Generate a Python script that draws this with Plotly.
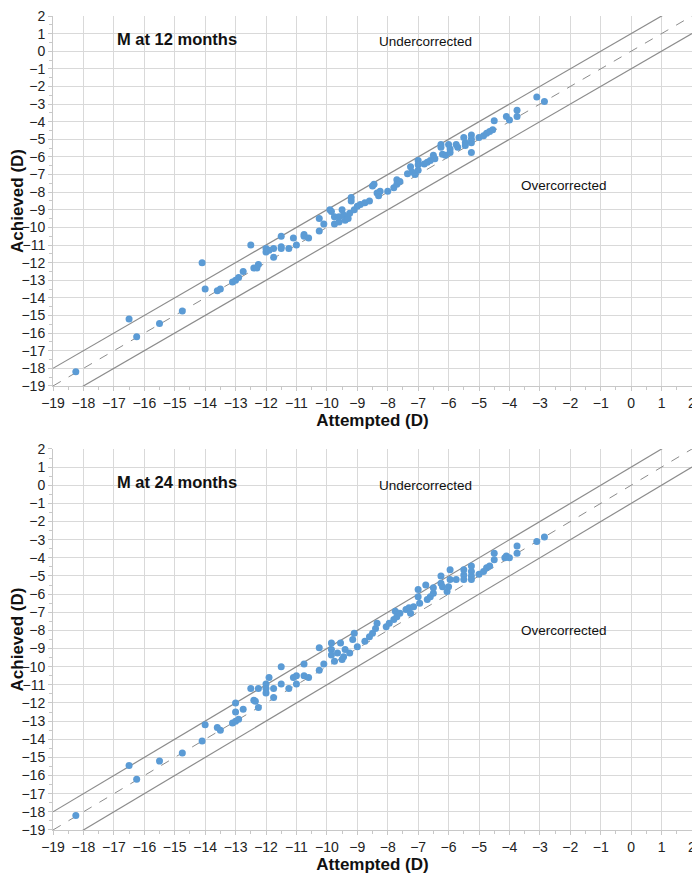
import plotly.graph_objects as go

# ---------------- data ----------------
ticks = list(range(-19, 3))
tick_text = [str(v).replace("-", "\u2212") for v in ticks]

att_12 = [-18.25, -16.5, -16.25, -15.5, -14.75, -14.1, -14.0, -13.6, -13.5, -13.1, -13.0, -12.9,
          -12.75, -12.5, -12.4, -12.3, -12.25, -12.0, -12.0, -11.9, -11.75, -11.75, -11.5, -11.5,
          -11.5, -11.25, -11.1, -11.0, -10.75, -10.75, -10.6, -10.25, -10.25, -10.1,
          -9.9, -9.85, -9.75, -9.75, -9.6, -9.6, -9.5, -9.45, -9.4, -9.3, -9.25, -9.2, -9.2, -9.1,
          -9.0, -8.9,
          -8.75, -8.6, -8.5, -8.45, -8.35, -8.3, -8.25,
          -8.0, -7.8, -7.7, -7.7, -7.6,
          -7.35, -7.25, -7.2, -7.1, -7.0, -7.0, -7.0,
          -6.8, -6.7, -6.6, -6.5, -6.45,
          -6.25, -6.25, -6.2, -6.1, -6.0, -5.95, -5.95,
          -5.75, -5.7, -5.5, -5.45, -5.45,
          -5.25, -5.25, -5.25, -5.25,
          -5.0, -4.85, -4.75, -4.65, -4.55, -4.5,
          -4.1, -4.0, -3.75, -3.75, -3.1, -2.85]
ach_12 = [-18.2, -15.2, -16.2, -15.45, -14.75, -12.0, -13.5, -13.6, -13.5, -13.1, -13.0, -12.85,
          -12.5, -11.0, -12.3, -12.3, -12.1, -11.4, -11.2, -11.3, -11.2, -11.7, -10.5, -11.1,
          -11.2, -11.2, -10.6, -11.0, -10.4, -10.5, -10.6, -9.5, -10.2, -9.8,
          -9.0, -9.1, -9.4, -9.8, -9.7, -9.4, -9.0, -9.3, -9.6, -9.5, -9.2, -8.5, -8.3, -9.0,
          -8.8, -8.7,
          -8.6, -8.5, -7.65, -7.55, -8.05, -8.2, -7.95,
          -7.95, -7.75, -7.3, -7.55, -7.4,
          -6.95, -6.55, -6.85, -7.0, -6.2, -6.45, -6.75,
          -6.4, -6.3, -6.2, -5.9, -6.1,
          -5.3, -5.45, -5.85, -5.9, -5.3, -5.55, -5.75,
          -5.3, -5.45, -4.9, -5.2, -5.35,
          -4.75, -5.0, -5.2, -5.75,
          -4.9, -4.8, -4.65, -4.55, -4.45, -3.95,
          -3.7, -3.9, -3.35, -3.7, -2.6, -2.85]

att_24 = [-18.25, -16.5, -16.25, -15.5, -14.75, -14.1, -14.0, -13.6, -13.5, -13.1, -13.0, -13.0,
          -13.0, -12.9, -12.75, -12.5, -12.4, -12.35, -12.25, -12.25, -12.0, -12.0, -12.0, -11.9,
          -11.75, -11.75, -11.5, -11.5, -11.25, -11.1, -11.0, -11.0, -10.75, -10.75, -10.6,
          -10.25, -10.25, -10.1, -9.85, -9.85, -9.85, -9.75, -9.65, -9.55, -9.5, -9.45, -9.4,
          -9.25, -9.15, -9.1, -9.0, -8.75, -8.6, -8.5, -8.4, -8.35,
          -8.05, -7.95, -7.8, -7.75, -7.7, -7.6, -7.4, -7.3, -7.25, -7.15,
          -7.0, -7.0, -6.95, -6.75, -6.7, -6.6, -6.5, -6.5,
          -6.25, -6.25, -6.2, -6.05, -6.0, -5.95, -5.95, -5.75,
          -5.5, -5.5, -5.5, -5.25, -5.25, -5.25, -5.25,
          -5.0, -4.85, -4.75, -4.65, -4.5, -4.5,
          -4.15, -4.1, -4.0, -3.75, -3.75, -3.1, -2.85]
ach_24 = [-18.2, -15.45, -16.2, -15.2, -14.75, -14.1, -13.2, -13.35, -13.5, -13.1, -13.0, -12.0,
          -12.5, -12.9, -12.35, -11.2, -11.85, -11.9, -12.25, -11.2, -10.95, -11.2, -11.45, -10.6,
          -11.2, -11.7, -10.0, -10.95, -11.2, -10.6, -10.5, -10.95, -9.85, -10.5, -10.6,
          -8.95, -10.2, -9.85, -8.7, -9.05, -9.35, -9.7, -9.25, -8.7, -9.6, -9.45, -9.05,
          -9.25, -8.5, -8.15, -8.9, -8.6, -8.35, -8.15, -7.9, -7.6,
          -7.8, -7.6, -7.4, -6.95, -7.25, -7.05, -6.85, -6.75, -7.05, -6.7,
          -6.15, -5.75, -6.5, -5.5, -6.3, -6.15, -5.95, -5.65,
          -5.0, -5.4, -5.6, -5.85, -5.6, -4.65, -5.2, -5.2,
          -4.65, -4.95, -5.2, -4.45, -4.75, -5.0, -5.2,
          -4.9, -4.75, -4.55, -4.45, -3.75, -4.1,
          -4.0, -3.9, -4.0, -3.35, -3.75, -3.1, -2.85]

ref_x = [-19, 2]
offsets = [1, 0, -1]

# ---------------- figure ----------------
fig = go.Figure()
blue = "#5B9BD5"
line_col = "#8c8c8c"

panels = [("x", "y", att_12, ach_12), ("x2", "y2", att_24, ach_24)]
for xa, ya, ax_, ay_ in panels:
    for off in offsets:
        fig.add_trace(go.Scatter(
            x=ref_x, y=[v + off for v in ref_x], xaxis=xa, yaxis=ya, mode="lines",
            line=dict(color=line_col, width=1.2 if off != 0 else 1, dash="dash" if off == 0 else "solid"),
            hoverinfo="skip", showlegend=False))
    fig.add_trace(go.Scatter(
        x=ax_, y=ay_, xaxis=xa, yaxis=ya, mode="markers",
        marker=dict(color=blue, size=7, line=dict(width=0)), showlegend=False))

axis_common = dict(
    range=[-19, 2], tickmode="array", tickvals=ticks, ticktext=tick_text,
    showgrid=True, gridcolor="#d9d9d9", gridwidth=1,
    zeroline=False, showline=True, linecolor="#c8c8c8", linewidth=1,
    ticks="outside", ticklen=4, tickcolor="#c8c8c8",
    minor=dict(dtick=0.5, ticks="outside", ticklen=3, tickcolor="#c8c8c8", showgrid=False),
    tickfont=dict(family="Liberation Sans, Arial", size=14, color="#222"),
    ticklabeloverflow="allow",
    fixedrange=True, automargin=False,
)
title_font = dict(family="Liberation Sans, Arial", size=17, color="#111")

# the page body adds an 8px offset; the figure is sized to compensate
fig.update_layout(
    width=692, height=867,
    margin=dict(l=45, r=8, t=8, b=45),
    plot_bgcolor="white", paper_bgcolor="white",
    xaxis=dict(axis_common, domain=[0, 1], anchor="y",
               title=dict(text="<b>Attempted (D)</b>", font=title_font, standoff=3)),
    yaxis=dict(axis_common, domain=[0.5455, 1], anchor="x",
               title=dict(text="<b>Achieved (D)</b>", font=title_font, standoff=5)),
    xaxis2=dict(axis_common, domain=[0, 1], anchor="y2",
                title=dict(text="<b>Attempted (D)</b>", font=title_font, standoff=3)),
    yaxis2=dict(axis_common, domain=[0, 0.4681], anchor="x2",
                title=dict(text="<b>Achieved (D)</b>", font=title_font, standoff=5)),
)

ann_font = dict(family="Liberation Sans, Arial", size=13.5, color="#111")
panel_text = [("x", "y", "M at 12 months", 0.7, 0.55, -7.6),
              ("x2", "y2", "M at 24 months", 0.2, 0.0, -8.0)]
for xr, yr, label, y_lab, y_under, y_over in panel_text:
    fig.add_annotation(x=-16.95, y=y_lab, xref=xr, yref=yr, text="<b>" + label + "</b>",
                       showarrow=False, xanchor="left",
                       font=dict(family="Liberation Sans, Arial", size=16.5, color="#111"))
    fig.add_annotation(x=-6.75, y=y_under, xref=xr, yref=yr, text="Undercorrected",
                       showarrow=False, font=ann_font)
    fig.add_annotation(x=-2.2, y=y_over, xref=xr, yref=yr, text="Overcorrected",
                       showarrow=False, font=ann_font)

fig.write_html("out.html")
